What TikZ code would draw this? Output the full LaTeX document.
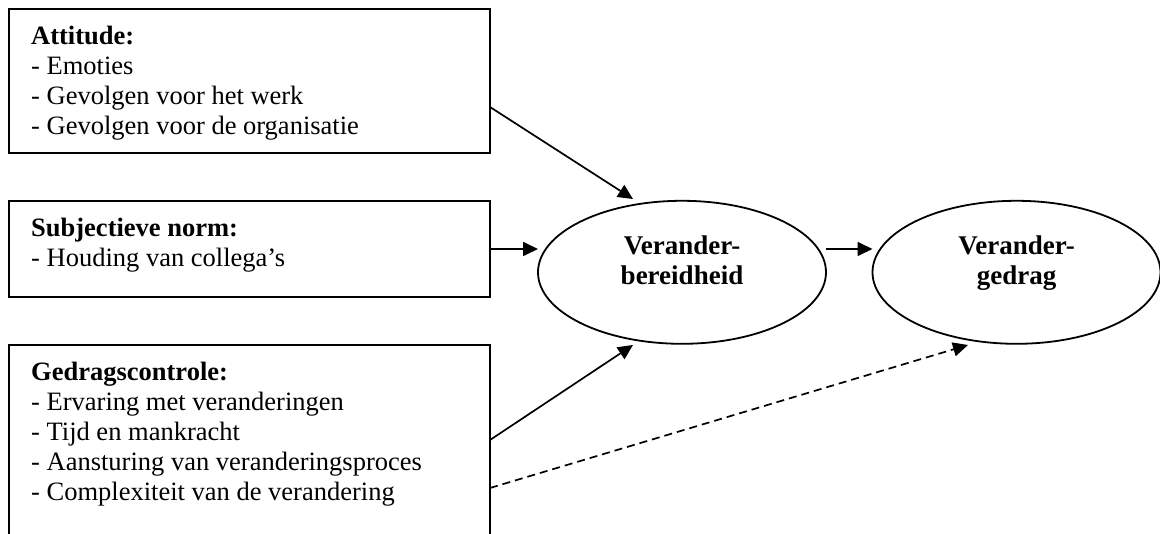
\documentclass[tikz,border=0pt]{standalone}
\usepackage{fontspec}
\setmainfont{Liberation Serif}
\usetikzlibrary{arrows.meta,shapes.geometric}
\begin{document}
\begin{tikzpicture}[x=1pt,y=-1pt,
  box/.style={draw,line width=2pt,rectangle,minimum width=481pt,inner sep=0pt,outer sep=0pt},
  oval/.style={draw,ellipse,line width=1.8pt,minimum width=288pt,minimum height=143pt,inner sep=0pt,outer sep=0pt},
  txt/.style={anchor=base west,inner sep=0pt,font=\fontsize{26.5}{30}\selectfont},
  otxt/.style={anchor=base,inner sep=0pt,font=\fontsize{27}{30}\selectfont\bfseries},
  arr/.style={-{Triangle[length=15pt,width=14pt]},line width=1.7pt},
]
\useasboundingbox (0,0) rectangle (1160,534);
\fill[white] (0,0) rectangle (1160,534);

% boxes
\node[box,minimum height=144pt] (b1) at (249.5,81) {};
\node[box,minimum height=96pt] (b2) at (249.5,249) {};
\node[box,minimum height=215pt] (b3) at (249.5,452.5) {};

\node[txt] (t1) at (31,45) {\parbox[t]{440pt}{\textbf{Attitude:}\\- Emoties\\- Gevolgen voor het werk\\- Gevolgen voor de organisatie}};
\node[txt] (t2) at (31,237) {\parbox[t]{440pt}{\textbf{Subjectieve norm:}\\- Houding van collega’s}};
\node[txt] (t3) at (31,381) {\parbox[t]{440pt}{\textbf{Gedragscontrole:}\\- Ervaring met veranderingen\\- Tijd en mankracht\\- Aansturing van veranderingsproces\\- Complexiteit van de verandering}};

% ellipses
\node[oval] (e1) at (682,272.3) {};
\node[oval] (e2) at (1016.5,272.3) {};
\node[otxt] (l1) at (682,255) {\parbox[t]{220pt}{\centering Verander-\\bereidheid}};
\node[otxt] (l2) at (1016.5,255) {\parbox[t]{220pt}{\centering Verander-\\gedrag}};

% connectors
\draw[arr] ([yshift=-26pt]b1.east) -- ([xshift=-49pt,yshift=73.3pt]e1.center);
\draw[arr] (b2.east) -- (b2.east -| e1.west);
\draw[arr] ([yshift=12.5pt]b3.east) -- ([xshift=-49pt,yshift=-72.7pt]e1.center);
\draw[arr] ([yshift=23.3pt]e1.east) -- ([yshift=23.3pt]e2.west);
\draw[arr,dash pattern=on 8pt off 5pt] ([yshift=-35.5pt]b3.east) -- ([xshift=-48.5pt,yshift=-72.7pt]e2.center);
\end{tikzpicture}
\end{document}
